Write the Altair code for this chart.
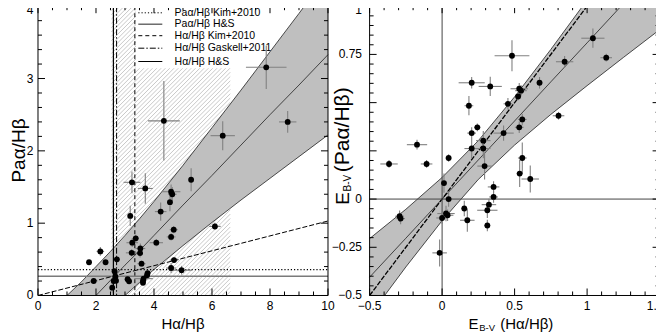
import altair as alt
import numpy as np
import pandas as pd

FONT = "Liberation Sans"

# ---------------- Left panel: Pa-alpha/H-beta vs H-alpha/H-beta ----------------
L_x = [3.24, 3.70, 4.59, 4.63, 4.55, 4.23, 3.18, 4.68, 4.59, 3.37,
       3.25, 4.08, 3.53, 2.15, 3.23, 3.52, 2.72, 1.76, 2.33, 3.57,
       4.69, 4.59, 4.95, 2.64, 3.78, 3.76, 2.67, 2.69, 2.61, 1.92,
       3.09, 3.14, 3.64, 3.62, 3.62, 2.56, 5.28, 6.10, 4.34, 6.37,
       7.87, 8.61]
L_y = [1.565, 1.48, 1.435, 1.40, 1.29, 1.16, 1.10, 0.91, 0.81, 0.79,
       0.73, 0.73, 0.65, 0.61, 0.59, 0.585, 0.50, 0.46, 0.46, 0.44,
       0.49, 0.38, 0.35, 0.335, 0.31, 0.28, 0.26, 0.205, 0.20, 0.20,
       0.225, 0.197, 0.233, 0.20, 0.175, 0.108, 1.60, 0.955, 2.415, 2.21,
       3.155, 2.40]
L_ex = [0.29, 0.26, 0.32, 0.15, 0.05, 0.20, 0.08, 0.14, 0.15, 0.10,
        0.20, 0.23, 0.17, 0.13, 0.20, 0.10, 0.06, 0.05, 0.05, 0.14,
        0.15, 0.17, 0.36, 0.05, 0.10, 0.10, 0.05, 0.05, 0.05, 0.13,
        0.10, 0.10, 0.32, 0.10, 0.05, 0.05, 0.05, 0.20, 0.55, 0.42,
        0.70, 0.30]
L_ey = [0.15, 0.21, 0.10, 0.10, 0.125, 0.125, 0.14, 0.05, 0.05, 0.05,
        0.06, 0.05, 0.07, 0.06, 0.05, 0.06, 0.03, 0.03, 0.03, 0.04,
        0.04, 0.07, 0.06, 0.03, 0.03, 0.03, 0.03, 0.03, 0.03, 0.03,
        0.03, 0.03, 0.04, 0.03, 0.03, 0.07, 0.16, 0.05, 0.55, 0.20,
        0.30, 0.15]

# fit and confidence band, read at these H-alpha/H-beta values
LB_x = [1.0, 1.5, 2.0, 2.5, 3.0, 3.5, 4.0, 5.0, 6.0, 7.0, 8.0, 9.0, 10.0]
LB_up = [0.00, 0.19, 0.40, 0.61, 0.83, 1.06, 1.30, 1.80, 2.32, 2.84, 3.37, 3.90, 4.44]
LB_mid = [-0.42, -0.21, 0.00, 0.21, 0.42, 0.62, 0.83, 1.25, 1.66, 2.08, 2.50, 2.91, 3.33]
LB_lo = [-0.83, -0.61, -0.40, -0.19, 0.00, 0.18, 0.36, 0.69, 1.01, 1.32, 1.62, 1.92, 2.22]

DIAG_x = [0.0, 10.0]
DIAG_y = [0.0, 1.03]
PAB_KIM = 0.358
PAB_HS = 0.266
HAB_HS = 2.60
HAB_GASKELL = 2.71
HAB_KIM = 3.34
HATCH_RANGE = [2.53, 6.63]
LEGEND = ["Paα/Hβ Kim+2010", "Paα/Hβ H&S", "Hα/Hβ Kim+2010",
          "Hα/Hβ Gaskell+2011", "Hα/Hβ H&S"]

# ---------------- Right panel: E(B-V) comparison ----------------
R_x = [-0.366, -0.173, -0.107, -0.293, -0.286, 0.013, 0.045, 0.0, 0.027, 0.038,
       0.153, 0.174, -0.017, 0.355, 0.355, 0.323, 0.312, 0.312, 0.535, 0.608,
       0.045, 0.204, 0.284, 0.284, 0.293, 0.204, 0.243, 0.424, 0.532, 0.553,
       0.553, 0.803, 0.185, 0.454, 0.524, 0.532, 0.544, 0.672, 0.204, 0.332,
       0.482, 0.845, 1.04, 1.132]
R_y = [0.182, 0.282, 0.182, -0.089, -0.101, 0.083, 0.0, -0.098, -0.075, -0.084,
       -0.049, -0.110, -0.279, 0.063, 0.011, -0.029, -0.058, -0.137, 0.132, 0.104,
       0.213, 0.262, 0.262, 0.303, 0.171, 0.342, 0.372, 0.342, 0.372, 0.413,
       0.213, 0.432, 0.484, 0.494, 0.532, 0.572, 0.562, 0.603, 0.603, 0.584,
       0.743, 0.712, 0.834, 0.733]
R_ex = [0.06, 0.07, 0.04, 0.03, 0.03, 0.02, 0.03, 0.04, 0.06, 0.04,
        0.02, 0.05, 0.05, 0.04, 0.03, 0.05, 0.07, 0.02, 0.02, 0.06,
        0.02, 0.05, 0.05, 0.05, 0.05, 0.03, 0.02, 0.07, 0.03, 0.03,
        0.03, 0.04, 0.03, 0.03, 0.02, 0.06, 0.04, 0.02, 0.09, 0.08,
        0.12, 0.06, 0.08, 0.04]
R_ey = [0.02, 0.025, 0.02, 0.03, 0.03, 0.05, 0.04, 0.03, 0.04, 0.03,
        0.04, 0.06, 0.07, 0.03, 0.03, 0.03, 0.04, 0.03, 0.07, 0.07,
        0.02, 0.05, 0.05, 0.05, 0.07, 0.03, 0.02, 0.04, 0.03, 0.03,
        0.08, 0.02, 0.05, 0.03, 0.02, 0.03, 0.03, 0.03, 0.03, 0.05,
        0.08, 0.03, 0.05, 0.02]

RB_x = [-0.5, -0.25, 0.0, 0.25, 0.5, 0.75, 1.0, 1.25, 1.5]
RB_up = [-0.205, -0.053, 0.112, 0.303, 0.53, 0.776, 1.032, 1.29, 1.55]
RB_mid = [-0.405, -0.203, 0.0, 0.203, 0.405, 0.608, 0.81, 1.013, 1.215]
RB_lo = [-0.605, -0.352, -0.112, 0.102, 0.28, 0.439, 0.588, 0.734, 0.878]
ONE_x = [-0.5, 1.0]
ONE_y = [-0.5, 1.0]

# tick values and their labels
LX_TICKS = [0, 2, 4, 6, 8, 10]
LX_LABELS = ["0", "2", "4", "6", "8", "10"]
LY_TICKS = [0, 1, 2, 3, 4]
LY_LABELS = ["0", "1", "2", "3", "4"]
RX_TICKS = [-0.5, 0, 0.5, 1, 1.5]
RX_LABELS = ["\u22120.5", "0", "0.5", "1", "1.5"]
RY_TICKS = [-0.5, -0.25, 0, 0.25, 0.5, 0.75, 1]
RY_LABELS = ["\u22120.5", "\u22120.25", "0", "", "", "0.75", "1"]

# ---------------- layout / style ----------------
PW = 290.0
GAP = 41.6
H = 289.3
W = 2 * PW + GAP
RX0 = PW + GAP
BAND = "#bfbfbf"
ERR = "#808080"

xl = alt.Scale(domain=[0, 10], range=[0, PW], nice=False, zero=False)
yl = alt.Scale(domain=[0, 4], range=[H, 0], nice=False, zero=False)
xr = alt.Scale(domain=[-0.5, 1.5], range=[RX0, W], nice=False, zero=False)
yr = alt.Scale(domain=[-0.5, 1], range=[H, 0], nice=False, zero=False)


def one():
    return alt.Data(values=[{}])


def text(s, x, y, size, angle=0, align="left", baseline="alphabetic"):
    return alt.Chart(one()).mark_text(
        text=s, font=FONT, fontSize=size, angle=angle, align=align,
        baseline=baseline, color="black").encode(x=alt.value(x), y=alt.value(y))


def xlabels(vals, labs, xs, last_dx=0):
    kw = dict(font=FONT, fontSize=12, align="center", baseline="alphabetic", color="black")
    d = pd.DataFrame({"v": vals[:-1], "t": labs[:-1]})
    dl = pd.DataFrame({"v": vals[-1:], "t": labs[-1:]})
    a = alt.Chart(d).mark_text(**kw).encode(
        x=alt.X("v:Q", scale=xs, axis=None), y=alt.value(H + 14.3), text="t:N")
    b = alt.Chart(dl).mark_text(dx=last_dx, **kw).encode(
        x=alt.X("v:Q", scale=xs, axis=None), y=alt.value(H + 14.3), text="t:N")
    return [a, b]


def ylabels(vals, labs, ys, xpos):
    d = pd.DataFrame({"v": vals[:-1], "t": labs[:-1]})
    dt = pd.DataFrame({"v": vals[-1:], "t": labs[-1:]})
    kw = dict(font=FONT, fontSize=12, align="right", color="black")
    a = alt.Chart(d).mark_text(baseline="middle", **kw).encode(
        y=alt.Y("v:Q", scale=ys, axis=None), x=alt.value(xpos), text="t:N")
    b = alt.Chart(dt).mark_text(baseline="top", dy=-1.5, **kw).encode(
        y=alt.Y("v:Q", scale=ys, axis=None), x=alt.value(xpos), text="t:N")
    return [a, b]


def ticks(xmaj, xmin, ymaj, ymin, xs, ys, x0, x1):
    out = []
    for vals, ln in ((xmaj, 7), (xmin, 4)):
        d = pd.DataFrame({"v": vals})
        for ya, yb in ((H, H - ln), (0, ln)):
            out.append(alt.Chart(d).mark_rule(color="black", strokeWidth=1).encode(
                x=alt.X("v:Q", scale=xs, axis=None), y=alt.value(ya), y2=alt.value(yb)))
    for vals, ln in ((ymaj, 7), (ymin, 4)):
        d = pd.DataFrame({"v": vals})
        for xa, xb in ((x0, x0 + ln), (x1, x1 - ln)):
            out.append(alt.Chart(d).mark_rule(color="black", strokeWidth=1).encode(
                y=alt.Y("v:Q", scale=ys, axis=None), x=alt.value(xa), x2=alt.value(xb)))
    return out


def minor(a, b, step, major):
    v = np.round(np.arange(a, b + step / 2, step), 4)
    return [float(t) for t in v if not np.any(np.isclose(t, major))]


def frame(x0, x1):
    return alt.Chart(one()).mark_rect(fill="white", fillOpacity=0, stroke="black",
                                      strokeWidth=1).encode(
        x=alt.value(x0), x2=alt.value(x1), y=alt.value(0), y2=alt.value(H))


def points_layers(x, y, ex, ey, xs, ys):
    d = pd.DataFrame({"x": x, "y": y})
    d["xlo"] = d["x"] - np.array(ex)
    d["xhi"] = d["x"] + np.array(ex)
    d["ylo"] = d["y"] - np.array(ey)
    d["yhi"] = d["y"] + np.array(ey)
    b = alt.Chart(d)
    e1 = b.mark_rule(color=ERR, strokeWidth=1.1).encode(
        x=alt.X("xlo:Q", scale=xs, axis=None), x2="xhi:Q", y=alt.Y("y:Q", scale=ys, axis=None))
    e2 = b.mark_rule(color=ERR, strokeWidth=1.1).encode(
        x=alt.X("x:Q", scale=xs, axis=None), y=alt.Y("ylo:Q", scale=ys, axis=None), y2="yhi:Q")
    p = b.mark_circle(size=34, color="black", opacity=1).encode(
        x=alt.X("x:Q", scale=xs, axis=None), y=alt.Y("y:Q", scale=ys, axis=None))
    return [e1, e2, p]


def band_layers(bx, up, mid, lo, xs, ys):
    d = pd.DataFrame({"x": bx, "up": up, "mid": mid, "lo": lo})
    b = alt.Chart(d)
    X = alt.X("x:Q", scale=xs, axis=None)
    area = b.mark_area(color=BAND, opacity=1, clip=True).encode(
        x=X, y=alt.Y("up:Q", scale=ys, axis=None), y2="lo:Q")
    lines = [b.mark_line(color="#222222", strokeWidth=0.8, clip=True).encode(
        x=X, y=alt.Y(f"{c}:Q", scale=ys, axis=None)) for c in ("up", "lo", "mid")]
    return [area] + lines


# ---------------- left layers ----------------
u0, u1 = HATCH_RANGE[0] * PW / 10, HATCH_RANGE[1] * PW / 10
rows = []
for c in np.arange(u0 - H, u1, 4.3):
    ua, ub = max(u0, c), min(u1, c + H)
    if ub > ua:
        rows.append({"hx": ua * 10 / PW, "hy": (ua - c) * 4 / H,
                     "hx2": ub * 10 / PW, "hy2": (ub - c) * 4 / H})
hatch = alt.Chart(pd.DataFrame(rows)).mark_rule(color="#b0b0b0", strokeWidth=0.7).encode(
    x=alt.X("hx:Q", scale=xl, axis=None), y=alt.Y("hy:Q", scale=yl, axis=None),
    x2="hx2:Q", y2="hy2:Q")

legbox = alt.Chart(one()).mark_rect(color="white").encode(
    x=alt.value(98), x2=alt.value(245), y=alt.value(0.5), y2=alt.value(62))

LEG_Y = [6.6, 18.0, 29.5, 42.0, 55.3]
LEG_STYLE = [dict(strokeDash=[1.2, 2], color="black"),
             dict(color="#555555", strokeWidth=1.3),
             dict(strokeDash=[4, 3], color="black"),
             dict(strokeDash=[6, 2, 1.5, 2], color="black"),
             dict(color="black")]
leg_layers = []
for lab, yy, st in zip(LEGEND, LEG_Y, LEG_STYLE):
    kw = dict(strokeWidth=1)
    kw.update(st)
    leg_layers.append(alt.Chart(one()).mark_rule(**kw).encode(
        x=alt.value(100.3), x2=alt.value(124.3), y=alt.value(yy)))
    leg_layers.append(text(lab, 136.6, yy, 10.5, baseline="middle"))


def vl(v, **kw):
    return alt.Chart(pd.DataFrame({"v": [v]})).mark_rule(**kw).encode(
        x=alt.X("v:Q", scale=xl, axis=None))


def hl(v, **kw):
    return alt.Chart(pd.DataFrame({"v": [v], "a": [0.0], "b": [10.0]})).mark_rule(**kw).encode(
        y=alt.Y("v:Q", scale=yl, axis=None), x=alt.X("a:Q", scale=xl, axis=None), x2="b:Q")


ref_left = [
    vl(HAB_HS, color="black", strokeWidth=1.2),
    vl(HAB_GASKELL, color="black", strokeWidth=1, strokeDash=[6, 2, 1.5, 2]),
    vl(HAB_KIM, color="black", strokeWidth=1, strokeDash=[4, 3]),
    hl(PAB_KIM, color="black", strokeWidth=1.1, strokeDash=[1.2, 2]),
    hl(PAB_HS, color="#7a7a7a", strokeWidth=1.5),
    alt.Chart(pd.DataFrame({"x": DIAG_x, "y": DIAG_y})).mark_line(
        color="black", strokeWidth=1, strokeDash=[5, 2]).encode(
        x=alt.X("x:Q", scale=xl, axis=None), y=alt.Y("y:Q", scale=yl, axis=None)),
]

left_layers = ([hatch, legbox] + leg_layers
               + band_layers(LB_x, LB_up, LB_mid, LB_lo, xl, yl)
               + ref_left
               + points_layers(L_x, L_y, L_ex, L_ey, xl, yl)
               + ticks(LX_TICKS, minor(0, 10, 0.5, LX_TICKS), LY_TICKS, minor(0, 4, 0.2, LY_TICKS),
                       xl, yl, 0, PW)
               + [frame(0, PW)]
               + xlabels(LX_TICKS, LX_LABELS, xl)
               + ylabels(LY_TICKS, LY_LABELS, yl, -4.7)
               + [text("Hα/Hβ", PW / 2, H + 33.3, 15, align="center"),
                  text("Paα/Hβ", -19.2, 144.3, 19, angle=270, align="center", baseline="middle")])

# ---------------- right layers ----------------
one_line = alt.Chart(pd.DataFrame({"x": ONE_x, "y": ONE_y})).mark_line(
    color="black", strokeWidth=1.3, strokeDash=[5, 1.5], clip=True).encode(
    x=alt.X("x:Q", scale=xr, axis=None), y=alt.Y("y:Q", scale=yr, axis=None))
zero_v = alt.Chart(pd.DataFrame({"v": [0.0]})).mark_rule(color="#444444", strokeWidth=1).encode(
    x=alt.X("v:Q", scale=xr, axis=None))
zero_h = alt.Chart(pd.DataFrame({"v": [0.0], "a": [-0.5], "b": [1.5]})).mark_rule(
    color="#444444", strokeWidth=1).encode(
    y=alt.Y("v:Q", scale=yr, axis=None), x=alt.X("a:Q", scale=xr, axis=None), x2="b:Q")

right_layers = (band_layers(RB_x, RB_up, RB_mid, RB_lo, xr, yr)
                + [one_line, zero_v, zero_h]
                + points_layers(R_x, R_y, R_ex, R_ey, xr, yr)
                + ticks(RX_TICKS, minor(-0.5, 1.5, 0.1, RX_TICKS), RY_TICKS,
                        minor(-0.5, 1.0, 0.05, RY_TICKS), xr, yr, RX0, W)
                + [frame(RX0, W)]
                + xlabels(RX_TICKS, RX_LABELS, xr, last_dx=-4.5)
                + ylabels(RY_TICKS, RY_LABELS, yr, RX0 - 7.6)
                + [text("E", 430.6, H + 33.3, 15),
                   text("B-V", 441.3, H + 36.0, 9.5),
                   text("(Hα/Hβ)", 462.3, H + 33.3, 15),
                   text("E", 310.6, 198.6, 19, angle=270),
                   text("B-V", 312.8, 185.3, 10, angle=270),
                   text("(Paα/Hβ)", 310.6, 166, 21, angle=270)])

left = alt.layer(*left_layers)
right = alt.layer(*right_layers)

chart = (alt.layer(left, right)
         .resolve_scale(x="independent", y="independent")
         .properties(width=W, height=H,
                     padding={"left": 1.0, "top": -4.8, "right": -8, "bottom": 0})
         .configure_view(stroke=None))

chart.save("out.html", embed_options={"renderer": "svg", "actions": False})
